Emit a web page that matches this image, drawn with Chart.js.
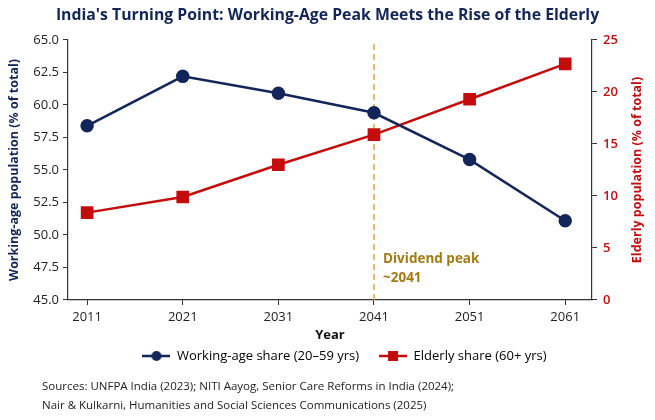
<html>
<head>
  <script src="https://cdn.jsdelivr.net/npm/chart.js@4.4.1/dist/chart.umd.min.js"></script>
  <style>
    body { margin: 0; background: #fff; }
    .chart-container { width: 655px; height: 420px; }
  </style>
</head>
<body>
  <div class="chart-container">
    <canvas id="turning-chart" width="655" height="420"></canvas>
  </div>
  <script>
    const years = [2011, 2021, 2031, 2041, 2051, 2061];
    const workingAge = [58.4, 62.2, 60.9, 59.4, 55.8, 51.1];
    const elderly = [8.4, 9.9, 13.0, 15.9, 19.3, 22.7];
    const peakYear = 2041;
    const sources = [
      'Sources: UNFPA India (2023); NITI Aayog, Senior Care Reforms in India (2024);',
      'Nair & Kulkarni, Humanities and Social Sciences Communications (2025)'
    ];

    const NAVY = '#13265a';
    const RED = '#c40c0c';
    const GOLD = '#e8a526';
    const GOLD_TEXT = '#a57a12';
    const FONT = 'Open Sans';

    // little line+marker images for the legend
    function legendIcon(color, shape) {
      const c = document.createElement('canvas');
      c.width = 28; c.height = 12;
      const g = c.getContext('2d');
      g.strokeStyle = color;
      g.lineWidth = 2.5;
      g.beginPath(); g.moveTo(0, 6); g.lineTo(28, 6); g.stroke();
      g.fillStyle = color;
      if (shape === 'circle') {
        g.beginPath(); g.arc(14, 6, 5, 0, Math.PI * 2); g.fill();
      } else {
        g.fillRect(9, 1, 10, 10);
      }
      return c;
    }

    const notes = {
      id: 'notes',
      afterLayout(chart) {
        // legend sits a bit right of centre in the original
        chart.legend.left += 17;
        chart.legend.right += 17;
      },
      afterDraw(chart) {
        const ctx = chart.ctx;
        const a = chart.chartArea;
        const x = chart.scales.x.getPixelForValue(peakYear);
        ctx.save();
        ctx.fillStyle = GOLD_TEXT;
        ctx.font = 'bold 13.5px "' + FONT + '"';
        ctx.textBaseline = 'middle';
        ctx.fillText('Dividend peak', x + 9, 259);
        ctx.fillText('~2041', x + 9, 278);
        // right axis title, reading bottom to top
        ctx.fillStyle = RED;
        ctx.font = 'bold 12.5px "' + FONT + '"';
        ctx.textAlign = 'center';
        ctx.translate(637, (a.top + a.bottom) / 2);
        ctx.rotate(-Math.PI / 2);
        ctx.fillText('Elderly population (% of total)', 0, 0);
        ctx.setTransform(1, 0, 0, 1, 0, 0);
        ctx.textAlign = 'left';
        ctx.fillStyle = '#222';
        ctx.font = '11.5px "' + FONT + '"';
        ctx.fillText(sources[0], 42, 387);
        ctx.fillText(sources[1], 42, 406);
        ctx.restore();
      }
    };

    const data = {
      datasets: [{
        label: 'Working-age share (20\u201359 yrs)',
        data: years.map((y, i) => ({x: y, y: workingAge[i]})),
        borderColor: NAVY,
        backgroundColor: NAVY,
        borderWidth: 2.5,
        pointStyle: 'circle',
        pointRadius: 5.5,
        yAxisID: 'y',
        icon: legendIcon(NAVY, 'circle')
      }, {
        label: 'Elderly share (60+ yrs)',
        data: years.map((y, i) => ({x: y, y: elderly[i]})),
        borderColor: RED,
        backgroundColor: RED,
        borderWidth: 2.5,
        pointStyle: 'rect',
        pointRadius: 7.2,
        yAxisID: 'y2',
        icon: legendIcon(RED, 'rect')
      }, {
        label: 'peak',
        data: [{x: peakYear, y: 45}, {x: peakYear, y: 65}],
        borderColor: GOLD,
        borderWidth: 1.5,
        borderDash: [6, 4],
        pointRadius: 0,
        yAxisID: 'y'
      }]
    };

    const tickFont = {family: FONT, size: 13};

    const options = {
      responsive: false,
      animation: false,
      layout: {padding: {left: 0, right: 0, top: 0, bottom: 47.5}},
      plugins: {
        title: {
          display: true,
          text: "India's Turning Point: Working-Age Peak Meets the Rise of the Elderly",
          color: NAVY,
          font: {family: FONT, size: 15.8, weight: 'bold'},
          padding: {top: 6, bottom: 15}
        },
        legend: {
          position: 'bottom',
          labels: {
            usePointStyle: true,
            pointStyleWidth: 28,
            boxHeight: 12,
            padding: 20,
            color: '#222',
            font: {family: FONT, size: 13},
            generateLabels(chart) {
              return chart.data.datasets.slice(0, 2).map((ds, i) => ({
                text: ds.label,
                pointStyle: ds.icon,
                fillStyle: ds.borderColor,
                strokeStyle: ds.borderColor,
                lineWidth: 0,
                datasetIndex: i
              }));
            }
          }
        },
        tooltip: {enabled: false}
      },
      scales: {
        x: {
          type: 'linear',
          min: 2009,
          max: 2063.8,
          afterBuildTicks(s) { s.ticks = years.map(v => ({value: v})); },
          afterFit(s) { s.height = 29.5; },
          ticks: {color: '#222', font: tickFont, padding: 4, callback: v => String(v)},
          grid: {display: true, drawOnChartArea: false, drawTicks: true, tickLength: 5, color: '#333'},
          border: {display: true, color: '#333', width: 1.2},
          title: {display: true, text: 'Year', color: '#111', font: {family: FONT, size: 13, weight: 'bold'}, padding: {top: 0, bottom: -13.5}}
        },
        y: {
          position: 'left',
          min: 45,
          max: 65,
          afterFit(s) { s.width = 68; },
          ticks: {stepSize: 2.5, color: '#222', font: tickFont, padding: 4, callback: v => v.toFixed(1)},
          grid: {display: true, drawOnChartArea: false, drawTicks: true, tickLength: 5, color: '#333'},
          border: {display: true, color: '#333', width: 1.2},
          title: {display: true, text: 'Working-age population (% of total)', color: NAVY, font: {family: FONT, size: 12.5, weight: 'bold'}, padding: {top: 7, bottom: 0}}
        },
        y2: {
          position: 'right',
          min: 0,
          max: 25,
          afterFit(s) { s.width = 63; },
          ticks: {stepSize: 5, color: RED, font: {family: FONT, size: 13, weight: '600'}, padding: 6},
          grid: {display: true, drawOnChartArea: false, drawTicks: true, tickLength: 5, color: '#333'},
          border: {display: true, color: '#333', width: 1.2}
        }
      }
    };

    const chart = new Chart('turning-chart', {
      type: 'line',
      data: data,
      options: options,
      plugins: [notes]
    });
  </script>
</body>
</html>
